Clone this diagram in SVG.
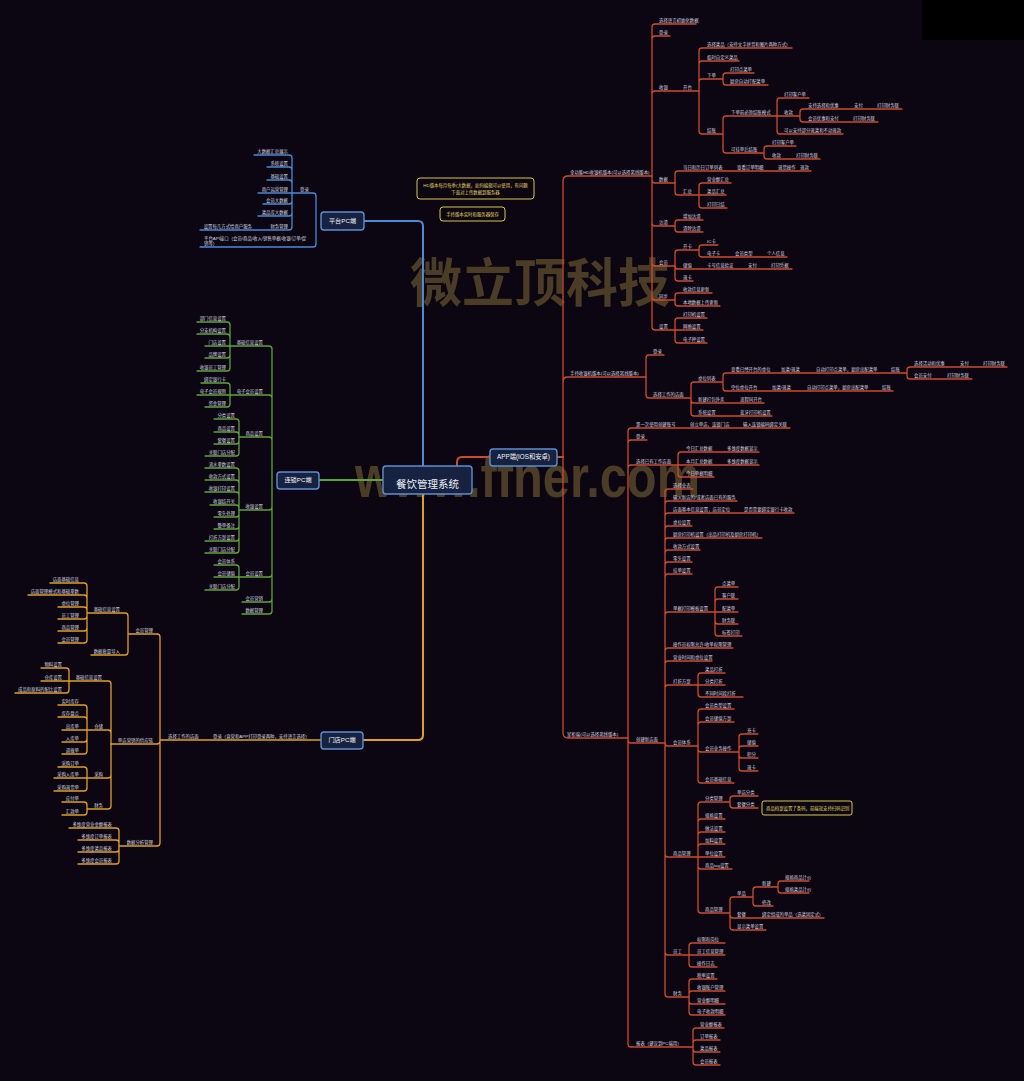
<svg xmlns="http://www.w3.org/2000/svg" width="1024" height="1081" viewBox="0 0 1024 1081">
<style>
text{font-family:"Liberation Sans","Noto Sans CJK SC",sans-serif}
.t{font-size:4.4px;fill:#d9d9e2}
.e{text-anchor:end}
.r,.g,.y,.b{fill:none;stroke-width:1.3;stroke-linecap:round;stroke-linejoin:round}
.r{stroke:#cf4a2c}.g{stroke:#5fa534}.y{stroke:#e2a01c}.b{stroke:#4a8bd6}
.m{stroke-width:2}
.box{fill:#16223f;stroke:#5d8fd2;stroke-width:1.4}
.bt{fill:#eef2fa;text-anchor:middle}
.note{fill:#0b0611;stroke:#d8c64a;stroke-width:1}
.nt{font-size:4.4px;fill:#e8d86a}
.wm{fill:#4b3d25;font-weight:bold}
</style>
<rect width="1024" height="1081" fill="#0b0611"/>
<rect x="922" y="0" width="102" height="40" fill="#000"/>
<g id="watermark">
<text class="wm" x="540" y="302" text-anchor="middle" font-size="52">微立顶科技</text>
<text class="wm" x="355" y="497" font-size="60" textLength="345" lengthAdjust="spacingAndGlyphs">www.ffner.com</text>
</g>
<g id="connectors">
<path class="b m" d="M364 221H418Q423 221 423 226V466"/>
<path class="g m" d="M319 480H383"/>
<path class="y m" d="M423 494V735Q423 740 418 740H363"/>
<path class="r m" d="M457 466V462Q457 457 462 457H490M557 457H563"/>
<path class="r" d="M563 457V181Q563 176 568 176H652M563 457V382Q563 377 568 377H646M563 457V733Q563 738 568 738H628"/>
<path class="r" d="M652 176V27Q652 24 655 24H696M652 176V39Q652 36 655 36H670M652 176V94Q652 91 655 91H699M652 176V180Q652 183 655 183H675M652 176V223Q652 226 655 226H675M652 176V263Q652 266 655 266H675M652 176V297Q652 300 655 300H675M652 176V327Q652 330 655 330H675"/>
<path class="r" d="M699 91V51Q699 48 702 48H792M699 91V64Q699 61 702 61H739M699 91V82Q699 79 702 79H723M699 91V131Q699 134 702 134H723M723 79V76Q723 73 726 73H754M723 79V82Q723 85 726 85H768M723 134V119Q723 116 726 116H777M723 134V150Q723 153 726 153H764M777 116V101Q777 98 780 98H809M777 116H800M777 116V131Q777 134 780 134H843M800 116V112Q800 109 803 109H902M800 116V119Q800 122 803 122H878M764 153V149Q764 146 767 146H796M764 153V156Q764 159 767 159H820"/>
<path class="r" d="M675 183V174Q675 171 678 171H811M675 183V192Q675 195 678 195H699M699 195V186Q699 183 702 183H731M699 195H726M699 195V205Q699 208 702 208H727M675 226V223Q675 220 678 220H703M675 226V229Q675 232 678 232H703M675 266V253Q675 250 678 250H699M675 266Q675 269 678 269H792M675 266V278Q675 281 678 281H693M699 250V248Q699 245 702 245H718M699 250V254Q699 257 702 257H787M675 300V296Q675 293 678 293H712M675 300V303Q675 306 678 306H720M675 330V321Q675 318 678 318H707M675 330H703M675 330V340Q675 343 678 343H707"/>
<path class="r" d="M646 377V358Q646 355 649 355H664M646 377V395Q646 398 649 398H691M691 398V385Q691 382 694 382H723M691 398V400Q691 403 694 403H764M691 398V413Q691 416 694 416H772M723 382V376Q723 373 726 373H907M723 382V388Q723 391 726 391H893M907 373V370Q907 367 910 367H1007M907 373V376Q907 379 910 379H972"/>
<path class="r" d="M628 738V431Q628 428 631 428H790M628 738V443Q628 440 631 440H647M628 738V468Q628 465 631 465H678M628 738V740Q628 743 631 743H665M628 738V1044Q628 1047 631 1047H693M678 465V455Q678 452 681 452H759M678 465H759M678 465V474Q678 477 681 477H714"/>
<path class="r" d="M665 743V492Q665 489 668 489H693M665 743V504Q665 501 668 501H737M665 743V516Q665 513 668 513H794M665 743V529Q665 526 668 526H692M665 743V541Q665 538 668 538H762M665 743V553Q665 550 668 550H700M665 743V565Q665 562 668 562H692M665 743V577Q665 574 668 574H692M665 743V615Q665 612 668 612H715M665 743V651Q665 648 668 648H733M665 743V664Q665 661 668 661H712M665 743V688Q665 685 668 685H698M665 743Q665 746 668 746H698M665 743V854Q665 857 668 857H698M665 743V952Q665 955 668 955H689M665 743V994Q665 997 668 997H689"/>
<path class="r" d="M715 612V590Q715 587 718 587H738M715 612V602Q715 599 718 599H738M715 612H738M715 612V621Q715 624 718 624H738M715 612V633Q715 636 718 636H742M698 685V676Q698 673 701 673H725M698 685H725M698 685V694Q698 697 701 697H743M698 746V712Q698 709 701 709H734M698 746V725Q698 722 701 722H734M698 746V749Q698 752 701 752H739M698 746V780Q698 783 701 783H734M739 752V737Q739 734 742 734H758M739 752V749Q739 746 742 746H758M739 752V755Q739 758 742 758H758M739 752V768Q739 771 742 771H758"/>
<path class="r" d="M698 857V805Q698 802 701 802H730M698 857V822Q698 819 701 819H725M698 857V835Q698 832 701 832H725M698 857V847Q698 844 701 844H725M698 857H725M698 857V866Q698 869 701 869H732M698 857V910Q698 913 701 913H730M730 802V799Q730 796 733 796H758M730 802V805Q730 808 733 808H758M730 913V900Q730 897 733 897H753M730 913V915Q730 918 733 918H824M730 913V927Q730 930 733 930H766M753 897V890Q753 887 756 887H778M753 897V903Q753 906 756 906H773M778 887V884Q778 881 781 881H809M778 887V890Q778 893 781 893H809"/>
<path class="r" d="M689 955V946Q689 943 692 943H725M689 955H725M689 955V964Q689 967 692 967H717M689 997V982Q689 979 692 979H717M689 997V994Q689 991 692 991H725M689 997V1001Q689 1004 692 1004H725M689 997V1012Q689 1015 692 1015H725M693 1047V1031Q693 1028 696 1028H724M693 1047V1043Q693 1040 696 1040H720M693 1047V1049Q693 1052 696 1052H720M693 1047V1062Q693 1065 696 1065H720"/>
<path class="b" d="M316 221V196Q316 193 313 193H292M316 221V244Q316 247 313 247H200M292 193V158Q292 155 289 155H254M292 193V170Q292 167 289 167H267M292 193V183Q292 180 289 180H267M292 193H258M292 193V201Q292 204 289 204H263M292 193V213Q292 216 289 216H258M292 193V227Q292 230 289 230H200"/>
<path class="g" d="M272 480V349Q272 346 269 346H230M272 480V398Q272 395 269 395H230M272 480V440Q272 437 269 437H239M272 480V507Q272 510 269 510H239M272 480V574Q272 577 269 577H239M272 480V599Q272 602 269 602H242M272 480V611Q272 614 269 614H242"/>
<path class="g" d="M230 346V325Q230 322 227 322H197M230 346V337Q230 334 227 334H197M230 346H205M230 346V355Q230 358 227 358H205M230 346V368Q230 371 227 371H197M230 395V386Q230 383 227 383H201M230 395H197M230 395V404Q230 407 227 407H205"/>
<path class="g" d="M239 437V422Q239 419 236 419H214M239 437V435Q239 432 236 432H214M239 437V441Q239 444 236 444H214M239 437V453Q239 456 236 456H205M239 510V471Q239 468 236 468H205M239 510V483Q239 480 236 480H205M239 510V495Q239 492 236 492H205M239 510V508Q239 505 236 505H210M239 510V514Q239 517 236 517H214M239 510V526Q239 529 236 529H214M239 510V538Q239 541 236 541H205M239 510V550Q239 553 236 553H205M239 577V568Q239 565 236 565H214M239 577H214M239 577V587Q239 590 236 590H205"/>
<path class="y" d="M321 740H160M160 740V637Q160 634 157 634H128M160 740V741Q160 744 157 744H111M160 740V843Q160 846 157 846H119M128 634V616Q128 613 125 613H87M128 634V652Q128 655 125 655H91M87 613V586Q87 583 84 583H50M87 613V598Q87 595 84 595H28M87 613V610Q87 607 84 607H58M87 613V616Q87 619 84 619H58M87 613V628Q87 631 84 631H58M87 613V640Q87 643 84 643H58"/>
<path class="y" d="M111 744V684Q111 681 108 681H69M111 744V733Q111 730 108 730H87M111 744V775Q111 778 108 778H87M111 744V806Q111 809 108 809H87M69 681V671Q69 668 66 668H41M69 681H41M69 681V690Q69 693 66 693H15M87 730V708Q87 705 84 705H58M87 730V720Q87 717 84 717H58M87 730H62M87 730V739Q87 742 84 742H62M87 730V751Q87 754 84 754H62M87 778V770Q87 767 84 767H58M87 778H54M87 778V788Q87 791 84 791H54M87 809V805Q87 802 84 802H62M87 809V812Q87 815 84 815H62M119 846V831Q119 828 116 828H69M119 846V843Q119 840 116 840H78M119 846V849Q119 852 116 852H78M119 846V861Q119 864 116 864H78"/>
</g>
<g id="center"><rect class="box" x="383" y="466" width="89" height="28" rx="3"/><text class="bt" x="427.5" y="488" font-size="10.5">餐饮管理系统</text></g>
<g id="app"><rect class="box" x="490" y="449" width="67" height="17" rx="3"/><text class="bt" x="523.5" y="459.3" font-size="6.3">APP端(IOS和安卓)</text></g>
<g id="platform"><rect class="box" x="321" y="212" width="43" height="18" rx="3"/><text class="bt" x="342.5" y="223.2" font-size="6.2">平台PC端</text></g>
<g id="chain"><rect class="box" x="277" y="472" width="42" height="17" rx="3"/><text class="bt" x="298" y="482.3" font-size="6.2">连锁PC端</text></g>
<g id="store"><rect class="box" x="321" y="732" width="42" height="17" rx="3"/><text class="bt" x="342" y="742.3" font-size="6.2">门店PC端</text></g>
<g id="notes">
<rect class="note" x="417" y="178" width="117" height="21" rx="3"/>
<text class="nt" x="475.5" y="187" text-anchor="middle">HD版本每月每季(大数据，如何编辑可以使用，有问题</text>
<text class="nt" x="475.5" y="194" text-anchor="middle">下面对上传数据到服务器</text>
<rect class="note" x="440" y="207" width="65" height="14" rx="3"/>
<text class="nt" x="472.5" y="215.5" text-anchor="middle">手持版本实时和服务器保存</text>
<rect class="note" x="762" y="801" width="90" height="14" rx="2"/>
<text class="nt" x="766" y="809.5">商品档案设置了条码，前端就支持扫码识别</text>
</g>
<g id="app-hd" class="t">
<text x="570" y="173.5">全功能HD收银机版本(可以选择离线版本)</text>
<text x="659" y="21.5">选择语言初始化数据</text>
<text x="659" y="33.5">登录</text>
<text x="659" y="88.5">收银</text><text x="683" y="88.5">开台</text>
<text x="707" y="45.5">选择菜品（支持文字拼音和图片两种方式）</text>
<text x="707" y="58.5">临时自定义菜品</text>
<text x="707" y="76.5">下单</text>
<text x="730" y="70.5">打印点菜单</text>
<text x="730" y="82.5">厨房自动打配菜单</text>
<text x="707" y="131.5">结账</text>
<text x="731" y="113.5">下单前必须结账模式</text>
<text x="784" y="95.5">打印客户单</text>
<text x="784" y="113.5">收款</text>
<text x="808" y="106.5">支持选择和优惠</text><text x="854" y="106.5">支付</text><text x="877" y="106.5">打印财务联</text>
<text x="808" y="119.5">会员优惠和支付</text><text x="853" y="119.5">打印财务联</text>
<text x="784" y="131.5">可以支持部分退菜和不动退款</text>
<text x="731" y="150.5">可挂单后结账</text>
<text x="772" y="143.5">打印客户单</text>
<text x="772" y="156.5">收款</text><text x="796" y="156.5">打印财务联</text>
<text x="659" y="180.5">数据</text>
<text x="683" y="168.5">当日和历日订单列表</text><text x="737" y="168.5">查看订单明细</text><text x="778" y="168.5">退货操作</text><text x="800" y="168.5">退款</text>
<text x="683" y="192.5">汇总</text>
<text x="707" y="180.5">营业额汇总</text><text x="707" y="192.5">菜品汇总</text><text x="707" y="205.5">打印日结</text>
<text x="659" y="223.5">沽清</text><text x="683" y="217.5">增加沽清</text><text x="683" y="229.5">清除沽清</text>
<text x="659" y="263.5">会员</text>
<text x="683" y="247.5">开卡</text><text x="707" y="242.5">IC卡</text>
<text x="707" y="254.5">电子卡</text><text x="735" y="254.5">会员类型</text><text x="767" y="254.5">个人信息</text>
<text x="683" y="266.5">储值</text><text x="707" y="266.5">卡号信息验证</text><text x="748" y="266.5">支付</text><text x="771" y="266.5">打印凭据</text>
<text x="683" y="278.5">退卡</text>
<text x="659" y="297.5">同步</text><text x="683" y="290.5">收款信息更新</text><text x="683" y="303.5">本地数据上传更新</text>
<text x="659" y="327.5">设置</text><text x="683" y="315.5">打印机设置</text><text x="683" y="327.5">网络设置</text><text x="683" y="340.5">电子秤设置</text>
</g>
<g id="app-handheld" class="t">
<text x="570" y="374.5">手持收银机版本(可以选择离线版本)</text>
<text x="653" y="352.5">登录</text>
<text x="653" y="395.5">选择工作的店面</text>
<text x="698" y="379.5">桌位列表</text>
<text x="731" y="370.5">查看已经开台的桌位</text><text x="781" y="370.5">加菜/退菜</text><text x="816" y="370.5">自动打印点菜单，厨房出配菜单</text><text x="891" y="370.5">结账</text>
<text x="914" y="364.5">选择活动和优惠</text><text x="960" y="364.5">支付</text><text x="983" y="364.5">打印财务联</text>
<text x="914" y="376.5">会员支付</text><text x="947" y="376.5">打印财务联</text>
<text x="731" y="388.5">空位桌位开台</text><text x="772" y="388.5">加菜/退菜</text><text x="807" y="388.5">自动打印点菜单，厨房出配菜单</text><text x="882" y="388.5">结账</text>
<text x="698" y="400.5">新建打包外卖</text><text x="740" y="400.5">流程同开台</text>
<text x="698" y="413.5">系统设置</text><text x="740" y="413.5">蓝牙打印机设置</text>
</g>
<g id="app-boss" class="t">
<text x="567" y="735.5">掌柜端(可以选择离线版本)</text>
<text x="636" y="425.5">第一次使用创建账号</text><text x="690" y="425.5">创立单店，连锁门店</text><text x="743" y="425.5">输入连锁编码绑定关联</text>
<text x="636" y="437.5">登录</text>
<text x="636" y="462.5">选择已有工作店面</text>
<text x="686" y="449.5">今日汇总数据</text><text x="727" y="449.5">多维度数据显示</text>
<text x="686" y="462.5">本月汇总数据</text><text x="727" y="462.5">多维度数据显示</text>
<text x="686" y="474.5">今日单据明细</text>
<text x="636" y="740.5">创建新店面</text>
<text x="673" y="486.5">选择业态</text>
<text x="673" y="498.5">输入新店的/或者店面已有的服务</text>
<text x="673" y="510.5">店面基本信息设置，店员定位</text><text x="744" y="510.5">是否需要绑定银行卡收款</text>
<text x="673" y="523.5">桌位设置</text>
<text x="673" y="535.5">厨房打印机设置（出品打印机及厨房打印机）</text>
<text x="673" y="547.5">收款方式设置</text>
<text x="673" y="559.5">零头设置</text>
<text x="673" y="571.5">挂单设置</text>
<text x="673" y="609.5">单据打印模板设置</text>
<text x="722" y="584.5">点菜单</text><text x="722" y="596.5">客户联</text><text x="722" y="609.5">配菜单</text><text x="722" y="621.5">财务联</text><text x="722" y="633.5">标签打印</text>
<text x="673" y="645.5">操作员权限允许/收单权限管理</text>
<text x="673" y="658.5">营业时间和桌位设置</text>
<text x="673" y="682.5">打折方案</text>
<text x="705" y="670.5">菜品打折</text><text x="705" y="682.5">分类打折</text><text x="705" y="694.5">不同时间段打折</text>
<text x="673" y="743.5">会员体系</text>
<text x="705" y="706.5">会员类型设置</text><text x="705" y="719.5">会员储值方案</text><text x="705" y="749.5">会员业务操作</text><text x="705" y="780.5">会员基础信息</text>
<text x="747" y="731.5">充卡</text><text x="747" y="743.5">储值</text><text x="747" y="755.5">积分</text><text x="747" y="768.5">退卡</text>
<text x="673" y="854.5">商品管理</text>
<text x="705" y="799.5">分类管理</text><text x="737" y="793.5">单店分类</text><text x="737" y="805.5">套餐分类</text>
<text x="705" y="816.5">规格设置</text><text x="705" y="829.5">做法设置</text><text x="705" y="841.5">加料设置</text><text x="705" y="854.5">单位设置</text><text x="705" y="866.5">商品tag设置</text>
<text x="705" y="910.5">商品管理</text>
<text x="737" y="894.5">单品</text><text x="762" y="884.5">新建</text><text x="785" y="878.5">规格商品计价</text><text x="785" y="890.5">规格菜品计价</text><text x="762" y="903.5">修改</text>
<text x="737" y="915.5">套餐</text><text x="762" y="915.5">绑定组成的单品（选菜固定式）</text>
<text x="737" y="927.5">显示菜单设置</text>
<text x="673" y="952.5">员工</text><text x="697" y="940.5">权限和岗位</text><text x="697" y="952.5">员工信息管理</text><text x="697" y="964.5">操作日志</text>
<text x="673" y="994.5">财务</text><text x="697" y="976.5">税率设置</text><text x="697" y="988.5">收银账户管理</text><text x="697" y="1001.5">营业额明细</text><text x="697" y="1012.5">电子收款明细</text>
<text x="636" y="1044.5">报表（建议到PC端用）</text>
<text x="700" y="1025.5">营业额报表</text><text x="700" y="1037.5">订单报表</text><text x="700" y="1049.5">菜品报表</text><text x="700" y="1062.5">会员报表</text>
</g>
<g id="platform-nodes" class="t">
<text x="300" y="190.5">登录</text>
<text class="e" x="288" y="152.5">大数据汇总展示</text>
<text class="e" x="288" y="164.5">系统设置</text>
<text class="e" x="288" y="177.5">基础设置</text>
<text class="e" x="288" y="190.5">商户运营管理</text>
<text class="e" x="288" y="201.5">会员大数据</text>
<text class="e" x="288" y="213.5">菜品库大数据</text>
<text class="e" x="288" y="227.5">财务管理</text>
<text class="e" x="252" y="227.5">设置每几方式给商户服务</text>
<text x="204" y="239.6">平台API接口（会员/商品/收入/销售单据/收银/订单/促</text>
<text x="204" y="245">销等）</text>
</g>
<g id="chain-nodes" class="t e">
<text x="263" y="343.5">基础信息设置</text>
<text x="263" y="392.5">电子会员设置</text>
<text x="263" y="434.5">商品设置</text>
<text x="263" y="507.5">收银设置</text>
<text x="263" y="574.5">会员设置</text>
<text x="263" y="599.5">会员营销</text>
<text x="263" y="611.5">数据管理</text>
<text x="226" y="319.5">部门信息设置</text><text x="226" y="331.5">分支机构设置</text><text x="226" y="343.5">门店设置</text><text x="226" y="355.5">品牌设置</text><text x="226" y="368.5">收银员工管理</text>
<text x="226" y="380.5">绑定银行卡</text><text x="226" y="392.5">电子会员规则</text><text x="226" y="404.5">资金管理</text>
<text x="235" y="416.5">分类设置</text><text x="235" y="429.5">商品设置</text><text x="235" y="441.5">套餐设置</text><text x="235" y="453.5">关联门店分配</text>
<text x="235" y="465.5">流水参数设置</text><text x="235" y="477.5">收款方式设置</text><text x="235" y="489.5">收银打印设置</text><text x="235" y="502.5">收银结开关</text><text x="235" y="514.5">零头处理</text><text x="235" y="526.5">整单备注</text><text x="235" y="538.5">打折方案设置</text><text x="235" y="550.5">关联门店分配</text>
<text x="235" y="562.5">会员体系</text><text x="235" y="574.5">会员储值</text><text x="235" y="587.5">关联门店分配</text>
</g>
<g id="store-nodes" class="t">
<text x="168" y="737.5">选择工作的店面</text>
<text x="213" y="737.5">登录（直营和APP打印登录两种，支持语言选择）</text>
<g class="e">
<text x="153" y="631.5">会员管理</text>
<text x="153" y="741.5">单店营销的供应链</text>
<text x="153" y="843.5">数据分析管理</text>
<text x="120" y="610.5">基础信息设置</text>
<text x="120" y="652.5">数据批量导入</text>
<text x="79" y="580.5">店面基础信息</text><text x="79" y="592.5">店面管理模式和基础参数</text><text x="79" y="604.5">桌位管理</text><text x="79" y="616.5">员工管理</text><text x="79" y="628.5">商品管理</text><text x="79" y="640.5">会员管理</text>
<text x="102" y="678.5">基础信息设置</text>
<text x="103" y="727.5">仓储</text>
<text x="103" y="775.5">采购</text>
<text x="103" y="806.5">财务</text>
<text x="62" y="665.5">物料设置</text><text x="62" y="678.5">仓库设置</text><text x="62" y="690.5">成品和原料的配比设置</text>
<text x="79" y="702.5">实时库存</text><text x="79" y="714.5">库存盘点</text><text x="79" y="727.5">出库单</text><text x="79" y="739.5">入库单</text><text x="79" y="751.5">调拨单</text>
<text x="79" y="764.5">采购订单</text><text x="79" y="775.5">采购入库单</text><text x="79" y="788.5">采购退货单</text>
<text x="79" y="799.5">应付单</text><text x="79" y="812.5">汇款单</text>
<text x="112" y="825.5">多维度营业金额报表</text><text x="112" y="837.5">多维度订单报表</text><text x="112" y="849.5">多维度菜品报表</text><text x="112" y="861.5">多维度会员报表</text>
</g>
</g>
</svg>
